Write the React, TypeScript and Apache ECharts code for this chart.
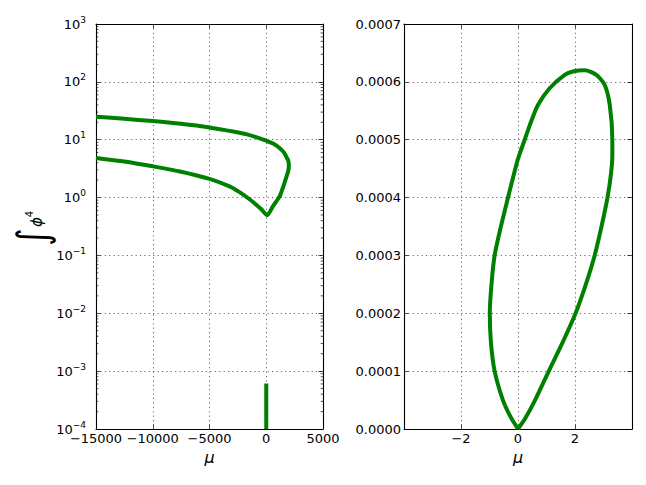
import React, { useEffect, useRef } from 'react';
import * as echarts from 'echarts';

// Left panel: main branch (mu, integral of phi^4), log scale
const curveMu = [-15000, -12500, -10000, -7500, -5000, -3236, -2355, -1473, -882, -414, 79, 582, 1173, 1464, 1700, 1940, 1990, 1930, 1820, 1570, 1173, 644, 0, -900, -1764, -2355, -3236, -5000, -7500, -10000, -12500, -15000];
const curveInt = [4.85, 4.2, 3.47, 2.8, 2.1, 1.56, 1.24, 0.935, 0.754, 0.623, 0.497, 0.705, 1.05, 1.48, 2.04, 2.9, 3.6, 4.4, 4.83, 5.97, 7.2, 8.5, 9.6, 11.1, 12.5, 13.2, 14.2, 16.3, 18.8, 21, 23, 25];

// Right panel: small loop near mu = 0
const loopMu = [0.0, -0.25, -0.53, -0.82, -0.95, -0.99, -0.93, -0.82, -0.6, -0.35, -0.12, 0.0, 0.235, 0.48, 0.7, 1.11, 1.64, 1.93, 2.34, 2.75, 3.04, 3.22, 3.31, 3.31, 3.26, 3.14, 2.93, 2.69, 2.38, 2.02, 1.57, 1.08, 0.6, 0.25, 0.0];
const loopInt = [0.0, 0.2e-4, 0.5e-4, 1.0e-4, 1.5e-4, 2.0e-4, 2.5e-4, 3.0e-4, 3.5e-4, 4.0e-4, 4.45e-4, 4.67e-4, 5.0e-4, 5.34e-4, 5.6e-4, 5.89e-4, 6.12e-4, 6.18e-4, 6.2e-4, 6.12e-4, 5.95e-4, 5.6e-4, 5.0e-4, 4.72e-4, 4.4e-4, 4.0e-4, 3.5e-4, 3.0e-4, 2.5e-4, 2.0e-4, 1.5e-4, 1.0e-4, 0.5e-4, 0.18e-4, 0.0];

// Axis ranges
const leftXRange = [-15000, 5000];
const leftXStep = 5000;
const leftYRange = [1e-4, 1e3];
const rightXRange = [-4, 4];
const rightXStep = 2;
const rightYRange = [0, 0.0007];
const rightYStep = 0.0001;
const minorExps = [-4, -3, -2, -1, 0, 1, 2];
const minorMults = [2, 3, 4, 5, 6, 7, 8, 9];

const FONT = 'DejaVu Sans';
const GREEN = '#008000';

const minus = (s: string) => s.replace('-', '\u2212');

export default function App() {
  const ref = useRef<HTMLDivElement>(null);
  useEffect(() => {
    if (!ref.current) return;
    const chart = echarts.init(ref.current, undefined, { renderer: 'svg' });

    const splitLine = { show: true, lineStyle: { color: '#333', width: 0.8, type: [1.1, 3.3] } };
    const axisLine = { show: true, onZero: false, lineStyle: { color: '#000', width: 1.1 } };
    const axisTick = { show: true, inside: true, length: 4.5, lineStyle: { color: '#000', width: 0.7 } };
    const lbl = { color: '#000', fontFamily: FONT, fontSize: 13 };
    const nameStyle = { color: '#000', fontFamily: FONT, fontSize: 16, fontStyle: 'italic' };

    const leftLine = curveMu.map((m, i) => [m, curveInt[i]]);
    const leftLoop = loopMu.map((m, i) => [m, loopInt[i]]).filter((p) => p[1] >= leftYRange[0]);
    const rightLoop = loopMu.map((m, i) => [m, loopInt[i]]);
    const minorVals: number[][] = [];
    minorExps.forEach((e) => minorMults.forEach((k) => minorVals.push([leftXRange[0], k * Math.pow(10, e)])));

    const txt = (text: string, size: number, italic = false) => ({
      text, fontFamily: FONT, fontSize: size, fontStyle: italic ? 'italic' : 'normal', fill: '#000',
      align: 'center', verticalAlign: 'middle', textAlign: 'center', textVerticalAlign: 'middle',
    });

    const option: any = {
      animation: false,
      backgroundColor: '#fff',
      grid: [
        { left: 96, top: 24, width: 227, height: 405, outerBoundsMode: 'none' },
        { left: 404, top: 24, width: 228, height: 405, outerBoundsMode: 'none' },
      ],
      xAxis: [
        {
          gridIndex: 0, type: 'value', position: 'bottom', min: leftXRange[0], max: leftXRange[1], interval: leftXStep,
          axisLine, axisTick, splitLine,
          axisLabel: { ...lbl, margin: 3, formatter: (v: number) => minus(String(v)) },
          name: 'μ', nameLocation: 'middle', nameGap: 20, nameTextStyle: nameStyle,
        },
        {
          gridIndex: 0, type: 'value', position: 'top', min: leftXRange[0], max: leftXRange[1], interval: leftXStep,
          axisLine, axisTick, splitLine: { show: false }, axisLabel: { show: false },
        },
        {
          gridIndex: 1, type: 'value', position: 'bottom', min: rightXRange[0], max: rightXRange[1], interval: rightXStep,
          axisLine, axisTick, splitLine,
          axisLabel: { ...lbl, margin: 3, showMinLabel: false, showMaxLabel: false, formatter: (v: number) => minus(String(v)) },
          name: 'μ', nameLocation: 'middle', nameGap: 20, nameTextStyle: nameStyle,
        },
        {
          gridIndex: 1, type: 'value', position: 'top', min: rightXRange[0], max: rightXRange[1], interval: rightXStep,
          axisLine, axisTick, splitLine: { show: false }, axisLabel: { show: false },
        },
      ],
      yAxis: [
        {
          gridIndex: 0, type: 'log', logBase: 10, position: 'left', min: leftYRange[0], max: leftYRange[1],
          axisLine, axisTick, splitLine,
          axisLabel: {
            margin: 10,
            formatter: (v: number) => `{b|10}{e|${minus(String(Math.round(Math.log10(v))))}}`,
            rich: {
              b: { color: '#000', fontFamily: FONT, fontSize: 13 },
              e: { color: '#000', fontFamily: FONT, fontSize: 9, padding: [0, 0, 9, 0] },
            },
          },
        },
        {
          gridIndex: 0, type: 'log', logBase: 10, position: 'right', min: leftYRange[0], max: leftYRange[1],
          axisLine, axisTick, splitLine: { show: false }, axisLabel: { show: false },
        },
        {
          gridIndex: 1, type: 'value', position: 'left', min: rightYRange[0], max: rightYRange[1], interval: rightYStep,
          axisLine, axisTick, splitLine,
          axisLabel: { ...lbl, margin: 3, formatter: (v: number) => v.toFixed(4) },
        },
        {
          gridIndex: 1, type: 'value', position: 'right', min: rightYRange[0], max: rightYRange[1], interval: rightYStep,
          axisLine, axisTick, splitLine: { show: false }, axisLabel: { show: false },
        },
      ],
      series: [
        {
          type: 'custom', xAxisIndex: 0, yAxisIndex: 0, silent: true, data: minorVals, z: 3,
          renderItem: (params: any, api: any) => {
            const y = api.coord([api.value(0), api.value(1)])[1];
            const cs = params.coordSys;
            const st = { stroke: '#000', lineWidth: 0.7 };
            return {
              type: 'group',
              children: [
                { type: 'line', shape: { x1: cs.x, y1: y, x2: cs.x + 2.3, y2: y }, style: st },
                { type: 'line', shape: { x1: cs.x + cs.width, y1: y, x2: cs.x + cs.width - 2.3, y2: y }, style: st },
              ],
            };
          },
        },
        {
          type: 'line', xAxisIndex: 0, yAxisIndex: 0, data: leftLine, showSymbol: false, smooth: 0.25,
          lineStyle: { color: GREEN, width: 4 }, itemStyle: { color: GREEN }, z: 4,
        },
        {
          type: 'line', xAxisIndex: 0, yAxisIndex: 0, data: leftLoop, showSymbol: false,
          lineStyle: { color: GREEN, width: 4 }, itemStyle: { color: GREEN }, z: 4,
        },
        {
          type: 'line', xAxisIndex: 2, yAxisIndex: 2, data: rightLoop, showSymbol: false, smooth: 0.25,
          lineStyle: { color: GREEN, width: 4 }, itemStyle: { color: GREEN }, z: 4,
        },
      ],
      graphic: [
        { type: 'text', x: 33, y: 237, rotation: Math.PI / 2, scaleX: 1.4, scaleY: 1.75, style: txt('∫', 24) },
        { type: 'text', x: 37, y: 222, rotation: Math.PI / 2, style: txt('ϕ', 15, true) },
        { type: 'text', x: 29, y: 214, rotation: Math.PI / 2, style: txt('4', 10) },
      ],
    };
    chart.setOption(option);
    return () => chart.dispose();
  }, []);
  return <div ref={ref} style={{ position: 'fixed', left: 0, top: 0, width: 646, height: 485, background: '#fff' }} />;
}
